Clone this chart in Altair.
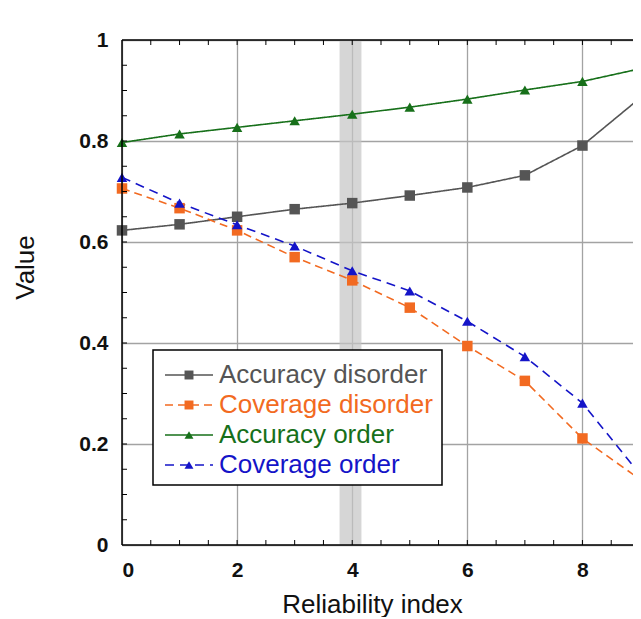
import altair as alt
import pandas as pd

# ---------------- data ----------------
x_index = [0, 1, 2, 3, 4, 5, 6, 7, 8, 9]
accuracy_disorder = [0.623, 0.635, 0.650, 0.665, 0.677, 0.692, 0.708, 0.732, 0.791, 0.885]
coverage_disorder = [0.706, 0.667, 0.623, 0.570, 0.524, 0.470, 0.394, 0.325, 0.211, 0.130]
accuracy_order = [0.797, 0.814, 0.827, 0.840, 0.853, 0.867, 0.883, 0.901, 0.918, 0.943]
coverage_order = [0.728, 0.677, 0.634, 0.592, 0.543, 0.503, 0.443, 0.373, 0.281, 0.140]

series_names = ["Accuracy disorder", "Coverage disorder", "Accuracy order", "Coverage order"]
series_colors = ["#555555", "#f26a21", "#17701a", "#1414c8"]
series_dash = [[1, 0], [8, 5], [1, 0], [9, 6]]
series_shapes = ["square", "square", "triangle-up", "triangle-up"]

band_start = [3.78]
band_end = [4.16]

x_ticks = [0, 2, 4, 6, 8]
y_ticks = [0, 0.2, 0.4, 0.6, 0.8, 1]
x_minor = [0.5, 1, 1.5, 2, 2.5, 3, 3.5, 4, 4.5, 5, 5.5, 6, 6.5, 7, 7.5, 8, 8.5]
y_minor = [0.05, 0.1, 0.15, 0.2, 0.25, 0.3, 0.35, 0.4, 0.45, 0.5,
           0.55, 0.6, 0.65, 0.7, 0.75, 0.8, 0.85, 0.9, 0.95]

# ---------------- tables ----------------
all_values = [accuracy_disorder, coverage_disorder, accuracy_order, coverage_order]
rows = []
for name, vals in zip(series_names, all_values):
    for xi, v in zip(x_index, vals):
        rows.append({"x": xi, "value": v, "series": name})
df = pd.DataFrame(rows)
legend_df = pd.DataFrame({"series": series_names, "i": list(range(len(series_names)))})
band_df = pd.DataFrame({"s": band_start, "e": band_end})
xt_df = pd.DataFrame({"t": x_minor})
yt_df = pd.DataFrame({"t": y_minor})
one_df = pd.DataFrame({"a": [0]})

XR = 518          # full length of the x range (plot is cropped at the right like the original)
W, H = 511, 505
FONT = "Liberation Sans"

xscale = alt.Scale(domain=[0, 9], range=[0, XR], nice=False, zero=False)
yscale = alt.Scale(domain=[0, 1], nice=False, zero=False)
cscale = alt.Scale(domain=series_names, range=series_colors)
dscale = alt.Scale(domain=series_names, range=series_dash)
sscale = alt.Scale(domain=series_names, range=series_shapes)

x_axis = alt.Axis(values=x_ticks, title="Reliability index", grid=True,
                  ticks=False, domain=False, labelPadding=14,
                  titleX=250, titleY=67, titleBaseline="alphabetic",
                  titleAlign="center")
y_axis = alt.Axis(values=y_ticks, format="~g", title="Value", grid=True,
                  ticks=False, domain=False, labelPadding=14,
                  titleX=-89, titleY=227, titleBaseline="alphabetic",
                  titleAlign="center", titleAngle=270)


def X(field):
    return alt.X(field, scale=xscale, axis=x_axis)


def Y(field):
    return alt.Y(field, scale=yscale, axis=y_axis)


band = alt.Chart(band_df).mark_rect(color="#c4c4c4", opacity=0.7).encode(
    x=X("s:Q"), x2="e:Q", y=alt.value(0), y2=alt.value(H),
)

lines = alt.Chart(df).mark_line(strokeWidth=1.6).encode(
    x=X("x:Q"), y=Y("value:Q"),
    color=alt.Color("series:N", scale=cscale, legend=None),
    strokeDash=alt.StrokeDash("series:N", scale=dscale, legend=None),
    detail="series:N",
)

points = alt.Chart(df).mark_point(filled=True, size=110, opacity=1).encode(
    x=X("x:Q"), y=Y("value:Q"),
    color=alt.Color("series:N", scale=cscale, legend=None),
    shape=alt.Shape("series:N", scale=sscale, legend=None),
)

tick_style = dict(color="black", strokeWidth=1)
xt_bottom = alt.Chart(xt_df).mark_rule(**tick_style).encode(
    x=X("t:Q"), y=alt.value(H), y2=alt.value(H - 5))
xt_top = alt.Chart(xt_df).mark_rule(**tick_style).encode(
    x=X("t:Q"), y=alt.value(0), y2=alt.value(5))
yt_left = alt.Chart(yt_df).mark_rule(**tick_style).encode(
    y=Y("t:Q"), x=alt.value(0), x2=alt.value(5))

# frame (left, top, bottom); right side is cropped like in the original
frame_style = dict(color="black", strokeWidth=1.5)
frame_left = alt.Chart(one_df).mark_rule(**frame_style).encode(
    x=alt.value(0), y=alt.value(0), y2=alt.value(H))
frame_top = alt.Chart(one_df).mark_rule(**frame_style).encode(
    x=alt.value(0), x2=alt.value(XR), y=alt.value(0))
frame_bottom = alt.Chart(one_df).mark_rule(**frame_style).encode(
    x=alt.value(0), x2=alt.value(XR), y=alt.value(H))

# ---------------- hand-built legend ----------------
leg_box = alt.Chart(one_df).mark_rect(fill="white", stroke="black", strokeWidth=1.5).encode(
    x=alt.value(31), x2=alt.value(320), y=alt.value(310), y2=alt.value(445))

leg_base = alt.Chart(legend_df).transform_calculate(py="335 + 30 * datum.i")
leg_lines = leg_base.mark_rule(strokeWidth=1.6).encode(
    x=alt.value(43), x2=alt.value(91),
    y=alt.Y("py:Q", scale=None, axis=None),
    color=alt.Color("series:N", scale=cscale, legend=None),
    strokeDash=alt.StrokeDash("series:N", scale=dscale, legend=None),
)
leg_points = leg_base.mark_point(filled=True, size=80, opacity=1).encode(
    x=alt.value(67),
    y=alt.Y("py:Q", scale=None, axis=None),
    color=alt.Color("series:N", scale=cscale, legend=None),
    shape=alt.Shape("series:N", scale=sscale, legend=None),
)
leg_text = leg_base.mark_text(align="left", baseline="middle", font=FONT, fontSize=26).encode(
    x=alt.value(97),
    y=alt.Y("py:Q", scale=None, axis=None),
    text="series:N",
    color=alt.Color("series:N", scale=cscale, legend=None),
)

chart = alt.layer(
    band, lines, points, xt_bottom, xt_top, yt_left,
    frame_left, frame_top, frame_bottom,
    leg_box, leg_lines, leg_points, leg_text,
).properties(
    width=W, height=H,
    autosize=alt.AutoSizeParams(type="none"),
    padding={"left": 114, "top": 32, "right": 0, "bottom": 72},
).configure_view(
    strokeWidth=0,
).configure_axis(
    gridColor="#a3a3a3", gridWidth=1.3, gridOpacity=1,
    labelFont=FONT, labelFontSize=21, labelFontWeight="bold", labelColor="#111111",
    titleFont=FONT, titleFontSize=26, titleFontWeight="normal", titleColor="#111111",
)

chart.save("out.html", embed_options={"renderer": "svg", "actions": False})
